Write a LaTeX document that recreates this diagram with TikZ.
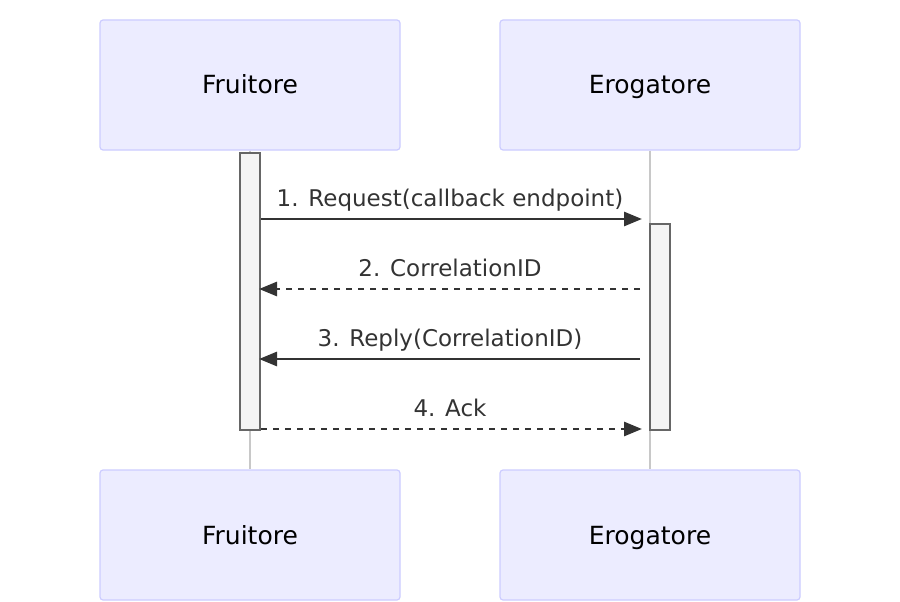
\documentclass[tikz,border=0pt]{standalone}
\usepackage{fontspec}
\setmainfont{DejaVu Sans}
\usetikzlibrary{arrows.meta}
\definecolor{actorfill}{HTML}{ECECFF}
\definecolor{actorline}{HTML}{CCCCFF}
\definecolor{msgcol}{HTML}{333333}
\definecolor{lifecol}{HTML}{C8C8C8}
\definecolor{actfill}{HTML}{F4F4F4}
\definecolor{actline}{HTML}{666666}
\tikzset{
  actor/.style={draw=actorline, fill=actorfill, line width=1.2pt, rounded corners=3pt,
    minimum width=300pt, minimum height=130pt, inner sep=0pt, text height=18pt, text depth=0pt,
    font=\fontsize{25}{30}\selectfont},
  activation/.style={draw=actline, fill=actfill, line width=2pt, minimum width=20pt, inner sep=0pt},
  lifeline/.style={draw=lifecol, line width=1.2pt},
  msg/.style={draw=msgcol, line width=2.8pt, -{Triangle[length=18pt,width=14pt]}},
  reply/.style={msg, dash pattern=on 6pt off 6pt},
  msglabel/.style={anchor=base, text=msgcol, inner sep=0pt, font=\fontsize{23}{28}\selectfont},
}
\begin{document}
\begin{tikzpicture}[x=1pt, y=-1pt]
      \useasboundingbox (0,0) rectangle (900,602);
      % Define nodes
      \node[actor] (fruitore)   at (250,85)  {Fruitore};
      \node[actor] (erogatore)  at (650,85)  {Erogatore};
      \node[actor] (fruitoreB)  at (250,535) {Fruitore};
      \node[actor] (erogatoreB) at (650,535) {Erogatore};
      \draw[lifeline] (fruitore) -- (fruitoreB);
      \draw[lifeline] (erogatore) -- (erogatoreB);
      \node[activation, minimum height=277pt] (fact) at (250,291.5) {};
      \node[activation, minimum height=206pt] (eact) at (660,327) {};
      \coordinate (req)  at (642,219);
      \coordinate (corr) at (640,289);
      \coordinate (rep)  at (640,359);
      \coordinate (ack)  at (642,429);
      % Connect nodes
      \draw[msg]   (fact.east |- req) -- (req);
      \draw[reply] (corr) -- ([xshift=-2pt]fact.east |- corr);
      \draw[msg]   (rep) -- ([xshift=-2pt]fact.east |- rep);
      \draw[reply] (fact.east |- ack) -- (ack);
      \node[msglabel] (l1) at (450,206) {1. Request(callback endpoint)};
      \node[msglabel] (l2) at (450,276) {2. CorrelationID};
      \node[msglabel] (l3) at (450,346) {3. Reply(CorrelationID)};
      \node[msglabel] (l4) at (450,416) {4. Ack};
    \end{tikzpicture}
\end{document}
